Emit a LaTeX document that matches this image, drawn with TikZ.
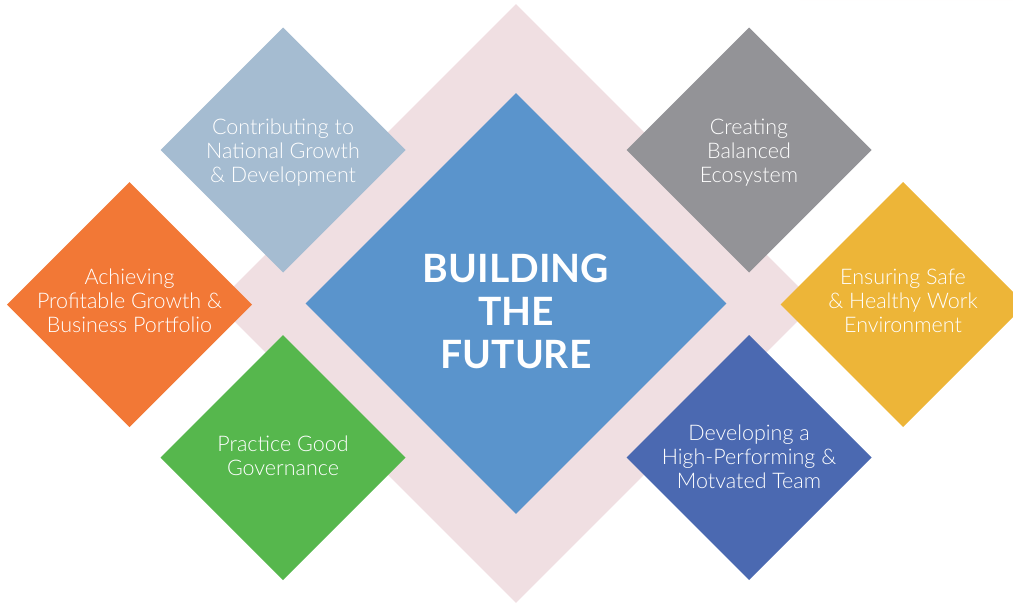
\documentclass[tikz,border=0pt]{standalone}
\usepackage{fontspec}
\setmainfont{Lato}[UprightFont=* Light, BoldFont=* Bold]
\usetikzlibrary{shapes.geometric}

\definecolor{backpink}{HTML}{F0DFE2}
\definecolor{coreblue}{HTML}{5A94CC}
\definecolor{paleblue}{HTML}{A5BCD1}
\definecolor{tileorange}{HTML}{F27836}
\definecolor{tilegreen}{HTML}{56B74D}
\definecolor{tilegrey}{HTML}{939397}
\definecolor{tileyellow}{HTML}{EDB538}
\definecolor{tilenavy}{HTML}{4B69B1}

\begin{document}
\begin{tikzpicture}[x=1pt, y=-1pt,
    tile/.style={diamond, minimum width=245pt, minimum height=245pt,
      inner sep=0pt, outer sep=0pt},
    tiletext/.style={align=center, text=white,
      font=\fontsize{21.5}{24}\selectfont}]
    \useasboundingbox (0,0) rectangle (1013,605);

    % faint glow top right
    \fill[backpink!12] (1013,0) -- (800,0) arc[start angle=180, end angle=245, radius=300] -- cycle;

    \node[diamond, minimum width=599pt, minimum height=599pt, inner sep=0pt, fill=backpink] (back) at (516,303.5) {};
    \node[diamond, minimum width=421pt, minimum height=421pt, inner sep=0pt, fill=coreblue] (core) at (516,303.5) {};

    \node[tile, fill=paleblue] (national) at (283,150) {};
    \node[tile, fill=tileorange] (profit) at (129.5,304.5) {};
    \node[tile, fill=tilegreen] (govern) at (283,457.5) {};
    \node[tile, fill=tilegrey] (ecosys) at (749,150) {};
    \node[tile, fill=tileyellow] (safety) at (903,304.5) {};
    \node[tile, fill=tilenavy] (team) at (749,457.5) {};

    \node[align=center, text=white, font=\fontsize{39}{43}\selectfont\bfseries] (title) at ([yshift=-8pt]core) {BUILDING\\THE\\FUTURE};

    \node[tiletext] (national-text) at ([yshift=-3pt]national) {Contributing to\\National Growth\\\& Development};
    \node[tiletext] (profit-text) at ([yshift=4pt]profit) {Achieving\\Profitable Growth \&\\Business Portfolio};
    \node[tiletext] (govern-text) at ([yshift=2pt]govern) {Practice Good\\Governance};
    \node[tiletext] (ecosys-text) at ([yshift=-3pt]ecosys) {Creating\\Balanced\\Ecosystem};
    \node[tiletext] (safety-text) at ([yshift=4pt]safety) {Ensuring Safe\\\& Healthy Work\\Environment};
    \node[tiletext] (team-text) at ([yshift=1pt]team) {Developing a\\High-Performing \&\\Motvated Team};
  \end{tikzpicture}
\end{document}
